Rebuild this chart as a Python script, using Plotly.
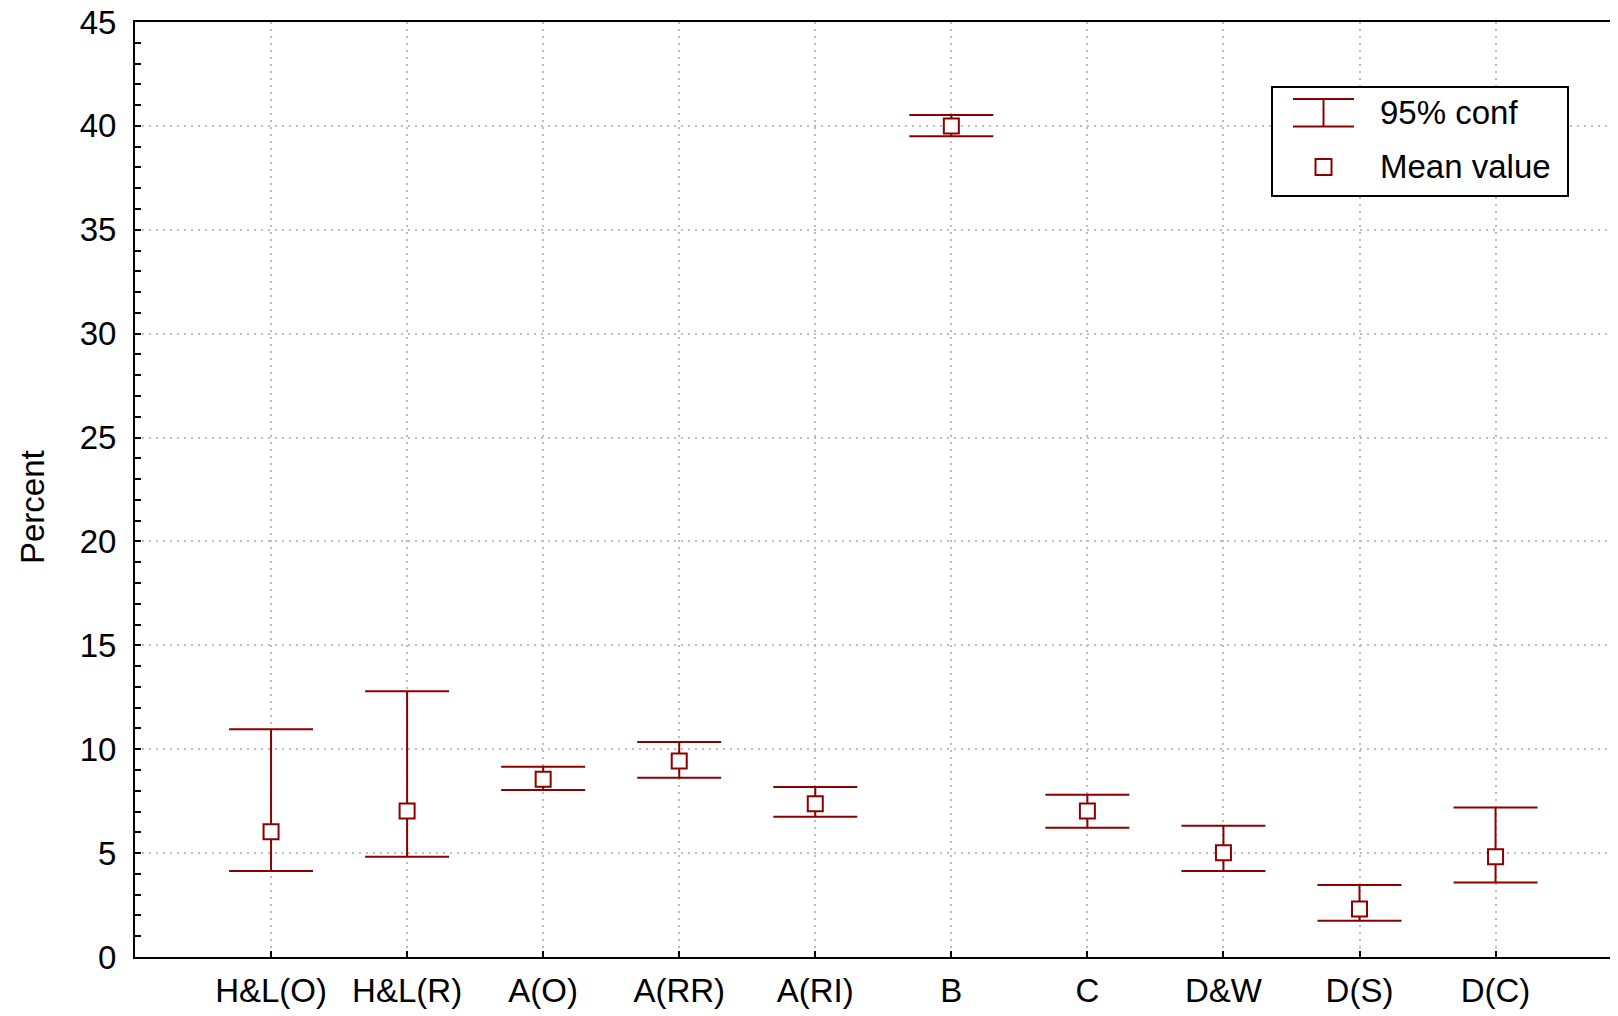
import plotly.graph_objects as go

categories = ["H&L(O)", "H&L(R)", "A(O)", "A(RR)", "A(RI)", "B", "C", "D&W", "D(S)", "D(C)"]
mean_vals = [6.03, 7.03, 8.55, 9.43, 7.38, 40.0, 7.03, 5.02, 2.31, 4.83]
upper_vals = [10.96, 12.79, 9.16, 10.35, 8.18, 40.53, 7.81, 6.32, 3.46, 7.20]
lower_vals = [4.14, 4.83, 8.04, 8.63, 6.75, 39.5, 6.22, 4.14, 1.75, 3.59]
y_ticks = [0, 5, 10, 15, 20, 25, 30, 35, 40, 45]

RED = "#8B0000"
FONT = "Liberation Sans, Arial, sans-serif"
OFF = 8  # default page body margin
W, H = 1618 - OFF, 1016 - OFF
L, R, T, B = 135 - OFF, 0, 22 - OFF, 59
PW, PH = W - L - R, H - T - B

def px(x):  # page pixel -> paper
    return (x - OFF - L) / PW

def py(y):
    return (H - B - (y - OFF)) / PH

fig = go.Figure()
fig.add_trace(go.Scatter(
    x=categories, y=mean_vals, mode="markers",
    marker=dict(symbol="square", size=15, color="white", line=dict(color=RED, width=2)),
    error_y=dict(type="data", symmetric=False,
                 array=[u - m for u, m in zip(upper_vals, mean_vals)],
                 arrayminus=[m - l for m, l in zip(mean_vals, lower_vals)],
                 color=RED, thickness=2, width=42),
    showlegend=False, cliponaxis=False,
))

fig.update_layout(
    width=W, height=H,
    margin=dict(l=L, r=R, t=T, b=B, pad=0, autoexpand=False),
    plot_bgcolor="white", paper_bgcolor="white",
    font=dict(family=FONT, size=33, color="black"),
    xaxis=dict(type="category", range=[-1, 9.9], showline=True, linecolor="black", linewidth=2,
               mirror=True, ticks="inside", ticklen=6, tickwidth=1.5, tickcolor="black",
               showgrid=True, gridcolor="#bdbdbd", gridwidth=1.5, griddash="2px,5px",
               ticklabelstandoff=3, zeroline=False, automargin=False),
    yaxis=dict(range=[0, 45], tickvals=y_ticks, showline=True, linecolor="black", linewidth=2,
               ticks="inside", ticklen=6, tickwidth=1.5, tickcolor="black",
               minor=dict(dtick=1, ticks="inside", ticklen=6, tickwidth=1.5, tickcolor="black", showgrid=False),
               showgrid=True, gridcolor="#bdbdbd", gridwidth=1.5, griddash="2px,5px",
               ticklabelstandoff=10, ticklabeloverflow="allow", zeroline=False, automargin=False),
)

# y-axis title
fig.add_annotation(text="Percent", textangle=-90, xref="paper", yref="paper",
                   x=px(32), y=py(507), xanchor="center", yanchor="middle",
                   showarrow=False, font=dict(size=33))

# custom legend
shapes = [
    dict(type="rect", x0=px(1272), x1=px(1568), y0=py(87), y1=py(196),
         line=dict(color="black", width=2), fillcolor="white"),
    dict(type="line", x0=px(1293), x1=px(1354), y0=py(99), y1=py(99), line=dict(color=RED, width=2)),
    dict(type="line", x0=px(1293), x1=px(1354), y0=py(126.5), y1=py(126.5), line=dict(color=RED, width=2)),
    dict(type="line", x0=px(1323.5), x1=px(1323.5), y0=py(99), y1=py(126.5), line=dict(color=RED, width=2)),
    dict(type="rect", x0=px(1315.5), x1=px(1331.5), y0=py(159), y1=py(175),
         line=dict(color=RED, width=2), fillcolor="white"),
]
for s in shapes:
    s.update(xref="paper", yref="paper", layer="above")
    fig.add_shape(**s)

fig.add_annotation(text="95% conf", xref="paper", yref="paper", x=px(1378), y=py(112),
                   xanchor="left", yanchor="middle", showarrow=False, font=dict(size=33))
fig.add_annotation(text="Mean value", xref="paper", yref="paper", x=px(1378), y=py(167),
                   xanchor="left", yanchor="middle", showarrow=False, font=dict(size=33))

fig.write_html("out.html")
